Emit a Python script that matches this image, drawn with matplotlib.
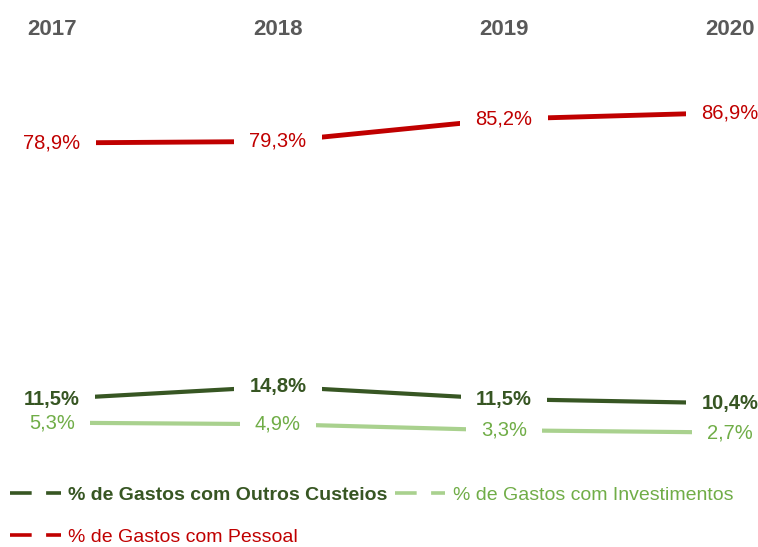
import matplotlib
matplotlib.use("Agg")
import matplotlib.pyplot as plt
from matplotlib.lines import Line2D
from matplotlib.path import Path

years = ["2017", "2018", "2019", "2020"]
pessoal = [78.9, 79.3, 85.2, 86.9]
outros = [11.5, 14.8, 11.5, 10.4]
invest = [5.3, 4.9, 3.3, 2.7]

fam = ['Liberation Sans', 'DejaVu Sans']
plt.rcParams['font.family'] = fam

RED = "#C00000"
DKG = "#375623"
LTG_LINE = "#A9D18E"
LTG_TXT = "#70AD47"
GRAY = "#595959"


def wide_box(x0, y0, width, height, mutation_size):
    px = 0.75 * mutation_size
    x0 -= px
    x1 = x0 + width + 2 * px
    y1 = y0 + height
    return Path([(x0, y0), (x1, y0), (x1, y1), (x0, y1), (x0, y0)], closed=True)


W, H = 758, 547
fig = plt.figure(figsize=(W/100, H/100), dpi=100)
ax = fig.add_axes([52/W, 104.2/H, (730-52)/W, (446.2-104.2)/H])
x = list(range(len(years)))
ax.set_xlim(0, 3)
ax.set_ylim(0, 90)
for s in ax.spines.values():
    s.set_visible(False)
ax.set_yticks([])
ax.xaxis.tick_top()
ax.set_xticks(x)
ax.set_xticklabels(years, fontsize=16, fontweight='bold', color=GRAY)
ax.tick_params(axis='x', length=0, pad=44)

series = [
    (invest, LTG_LINE, LTG_TXT, 'normal', 3.0),
    (outros, DKG, DKG, 'bold', 3.0),
    (pessoal, RED, RED, 'normal', 3.5),
]
for vals, lc, tc, fw, lw in series:
    ax.plot(x, vals, color=lc, lw=lw, zorder=2, solid_capstyle='butt', clip_on=False)
for vals, lc, tc, fw, lw in series:
    for xi, v in zip(x, vals):
        ax.text(xi, v, f"{v:.1f}%".replace('.', ','), ha='center', va='center',
                fontsize=14.5, fontweight=fw, color=tc, zorder=5,
                bbox=dict(boxstyle=wide_box, fc='white', ec='none'),
                clip_on=False)

handles = [
    Line2D([], [], color=DKG, lw=2.6, ls=(0, (6, 4))),
    Line2D([], [], color=RED, lw=2.6, ls=(0, (6, 4))),
    Line2D([], [], color=LTG_LINE, lw=2.6, ls=(0, (6, 4))),
]
labels = ["% de Gastos com Outros Custeios", "% de Gastos com Pessoal",
          "% de Gastos com Investimentos"]
leg = fig.legend(handles, labels, ncol=2, loc='upper left',
                 bbox_to_anchor=(10/W, 1 - 486/H), frameon=False,
                 fontsize=14, handlelength=2.6, handletextpad=0.4,
                 columnspacing=0.35, labelspacing=1.25, borderaxespad=0,
                 borderpad=0)
txt_colors = [DKG, RED, LTG_TXT]
for t, c in zip(leg.get_texts(), txt_colors):
    t.set_color(c)
leg.get_texts()[0].set_fontweight('bold')

fig.savefig("out.png", dpi=100)
